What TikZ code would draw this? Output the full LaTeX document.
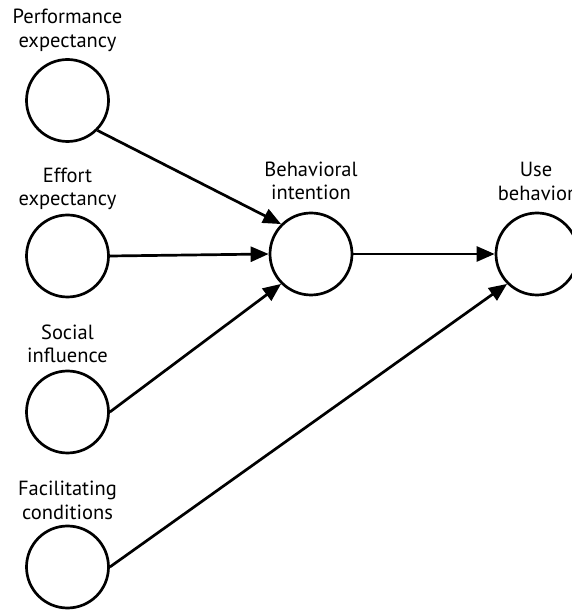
\documentclass[tikz,border=0pt]{standalone}
\usepackage{fontspec}
\setmainfont{PT Sans}
\usetikzlibrary{positioning,arrows.meta}

\begin{document}
\begin{tikzpicture}[x=1pt,y=1pt,every node/.style={black},
	construct/.style={draw,circle,line width=2.7pt,minimum size=82pt,inner sep=0pt},
	lbl/.style={align=center,inner sep=0pt,text depth=0pt,font=\fontsize{20.5}{23.5}\selectfont},
	path/.style={line width=2.7pt,-{Triangle[length=18pt,width=15pt]}}]
	\useasboundingbox (0,0) rectangle (572,611);
%	\coordinate (    ) at (X    , 611-Y    );
	\coordinate (cpe) at (67.5, 611-100.5);
	\coordinate (cee) at (67.5, 611-256);
	\coordinate (csi) at (67.5, 611-412);
	\coordinate (cfc) at (67.5, 611-567);
	\coordinate (cbi) at (311 , 611-254);
	\coordinate (cub) at (537 , 611-254);

	\node[construct] (pe) at (cpe) {};
	\node[construct] (ee) at (cee) {};
	\node[construct] (si) at (csi) {};
	\node[construct] (fc) at (cfc) {};
	\node[construct] (bi) at (cbi) {};
	\node[construct] (ub) at (cub) {};

	\node[lbl, above=10.7pt of pe] (pelbl) {Performance\\expectancy};
	\node[lbl, above=7.7pt of ee] (eelbl) {Effort\\expectancy};
	\node[lbl, above=6.7pt of si] (silbl) {Social\\influence};
	\node[lbl, above=5pt of fc] (fclbl) {Facilitating\\conditions};
	\node[lbl, above=11.7pt of bi] (bilbl) {Behavioral\\intention};
	\node[lbl, above=11pt of ub, xshift=-1pt] (ublbl) {Use\\behavior};

	\draw[path] (pe.south east) -- (bi.north west);
	\draw[path] (ee.east) -- (bi.west);
	\draw[path] (si.east) -- (bi.south west);
	\draw[path] (bi.east) -- (ub.west);
	\draw[path] (fc.east) -- (ub.south west);
\end{tikzpicture}
\end{document}
